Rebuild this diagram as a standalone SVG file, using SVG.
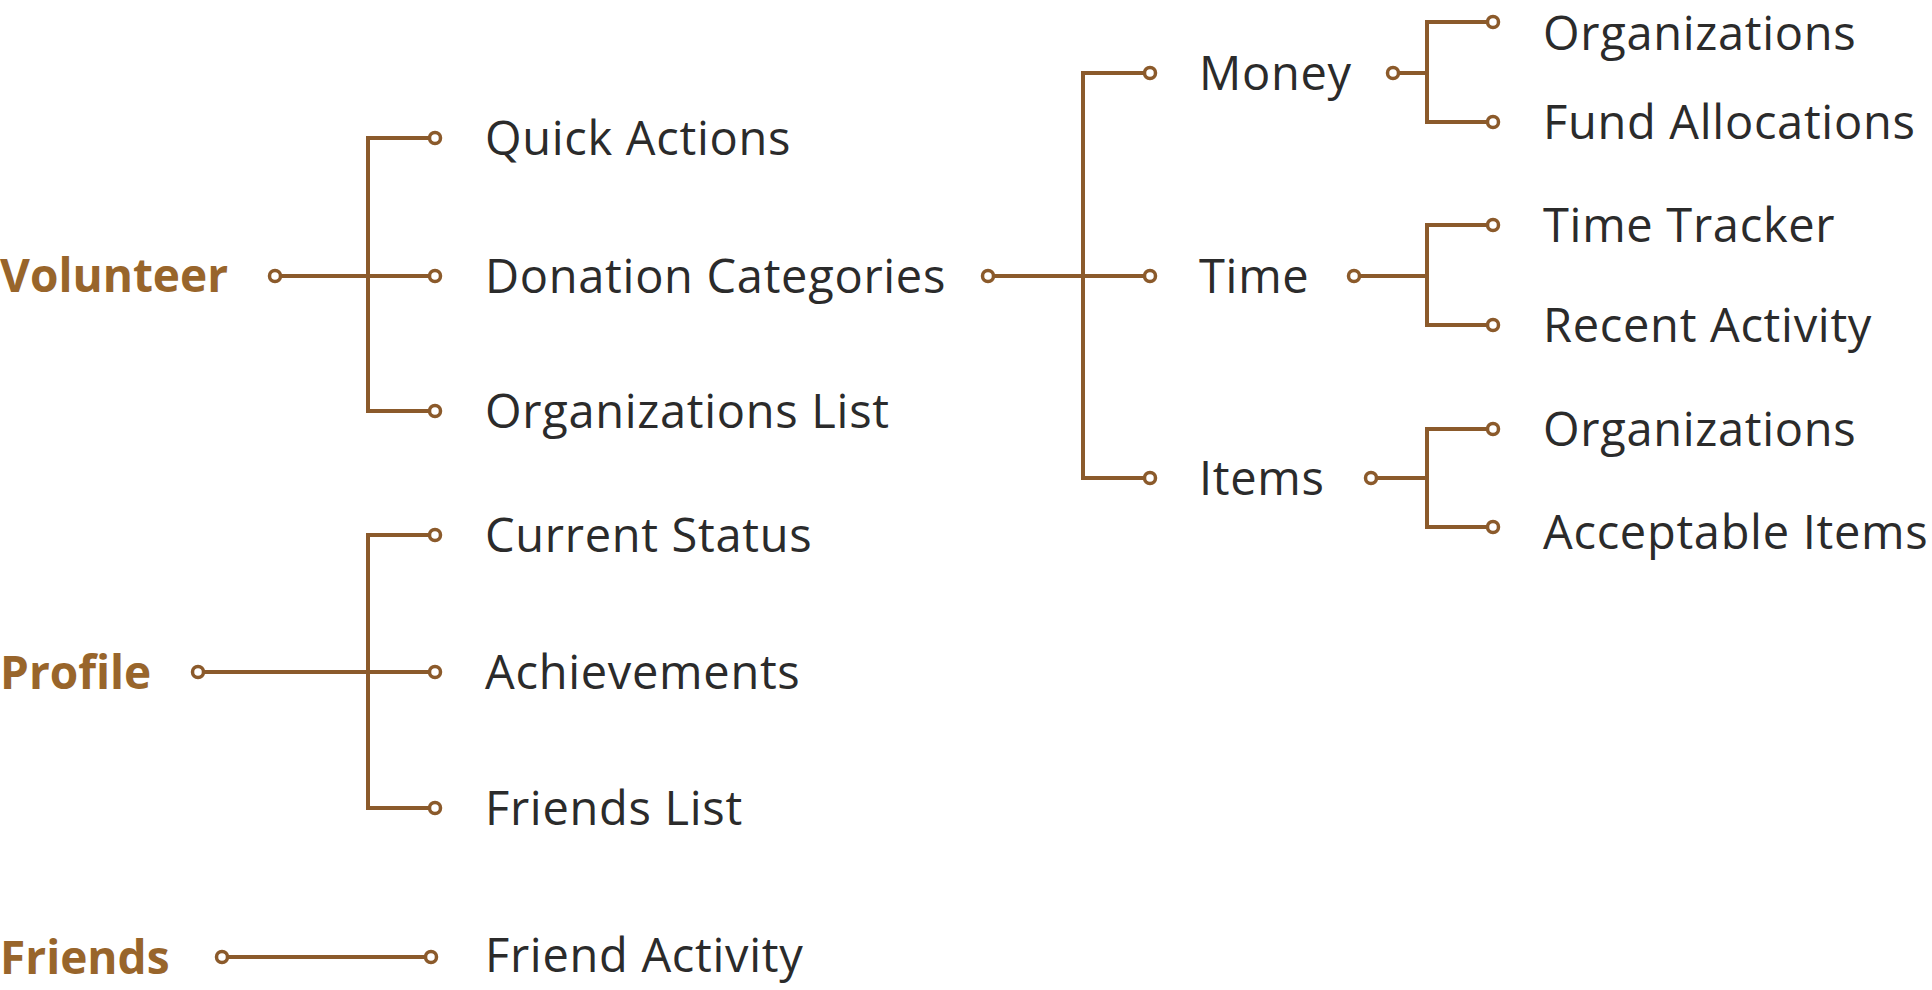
<svg xmlns="http://www.w3.org/2000/svg" width="1932" height="990" viewBox="0 0 1932 990">
<style>
.root{font-family:"Open Sans","Noto Sans",sans-serif;font-weight:700;font-size:46px;fill:#98652B}
.lbl{font-family:"Open Sans","Noto Sans",sans-serif;font-size:47px;letter-spacing:0.7px;fill:#2B2B2B}
.ln{fill:none;stroke:#8B5A2B;stroke-width:4;stroke-linejoin:miter}
.dot{fill:#fff;stroke:#8B5A2B;stroke-width:3.5}
</style>
<rect width="1932" height="990" fill="#fff"/>
<g id="connectors">
<path class="ln" d="M275 276H435M435 138H368V411H435"/>
<path class="ln" d="M988 276H1150M1150 73H1083V478H1150"/>
<path class="ln" d="M1393 73H1427M1493 22H1427V122H1493"/>
<path class="ln" d="M1354 276H1427M1493 225H1427V325H1493"/>
<path class="ln" d="M1371 478H1427M1493 429H1427V527H1493"/>
<path class="ln" d="M198 672H435M435 535H368V808H435"/>
<path class="ln" d="M222 957H431"/>
<g>
<circle class="dot" cx="275" cy="276" r="5.5"/>
<circle class="dot" cx="435" cy="138" r="5.5"/>
<circle class="dot" cx="435" cy="276" r="5.5"/>
<circle class="dot" cx="435" cy="411" r="5.5"/>
<circle class="dot" cx="988" cy="276" r="5.5"/>
<circle class="dot" cx="1150" cy="73" r="5.5"/>
<circle class="dot" cx="1150" cy="276" r="5.5"/>
<circle class="dot" cx="1150" cy="478" r="5.5"/>
<circle class="dot" cx="1393" cy="73" r="5.5"/>
<circle class="dot" cx="1354" cy="276" r="5.5"/>
<circle class="dot" cx="1371" cy="478" r="5.5"/>
<circle class="dot" cx="1493" cy="22" r="5.5"/>
<circle class="dot" cx="1493" cy="122" r="5.5"/>
<circle class="dot" cx="1493" cy="225" r="5.5"/>
<circle class="dot" cx="1493" cy="325" r="5.5"/>
<circle class="dot" cx="1493" cy="429" r="5.5"/>
<circle class="dot" cx="1493" cy="527" r="5.5"/>
<circle class="dot" cx="198" cy="672" r="5.5"/>
<circle class="dot" cx="435" cy="535" r="5.5"/>
<circle class="dot" cx="435" cy="672" r="5.5"/>
<circle class="dot" cx="435" cy="808" r="5.5"/>
<circle class="dot" cx="222" cy="957" r="5.5"/>
<circle class="dot" cx="431" cy="957" r="5.5"/>
</g>
</g>
<g id="volunteer"><text class="root" x="0" y="292">Volunteer</text></g>
<g id="quick-actions"><text class="lbl" x="485" y="155">Quick Actions</text></g>
<g id="donation-categories"><text class="lbl" x="485" y="293">Donation Categories</text></g>
<g id="organizations-list"><text class="lbl" x="485" y="428">Organizations List</text></g>
<g id="money"><text class="lbl" x="1199" y="90">Money</text></g>
<g id="time"><text class="lbl" x="1199" y="293">Time</text></g>
<g id="items"><text class="lbl" x="1199" y="495">Items</text></g>
<g id="money-organizations"><text class="lbl" x="1543" y="50">Organizations</text></g>
<g id="fund-allocations"><text class="lbl" x="1543" y="139">Fund Allocations</text></g>
<g id="time-tracker"><text class="lbl" x="1543" y="242">Time Tracker</text></g>
<g id="recent-activity"><text class="lbl" x="1543" y="342">Recent Activity</text></g>
<g id="items-organizations"><text class="lbl" x="1543" y="446">Organizations</text></g>
<g id="acceptable-items"><text class="lbl" x="1543" y="549">Acceptable Items</text></g>
<g id="profile"><text class="root" x="0" y="689">Profile</text></g>
<g id="current-status"><text class="lbl" x="485" y="552">Current Status</text></g>
<g id="achievements"><text class="lbl" x="485" y="689">Achievements</text></g>
<g id="friends-list"><text class="lbl" x="485" y="825">Friends List</text></g>
<g id="friends"><text class="root" x="0" y="974">Friends</text></g>
<g id="friend-activity"><text class="lbl" x="485" y="972">Friend Activity</text></g>
</svg>
